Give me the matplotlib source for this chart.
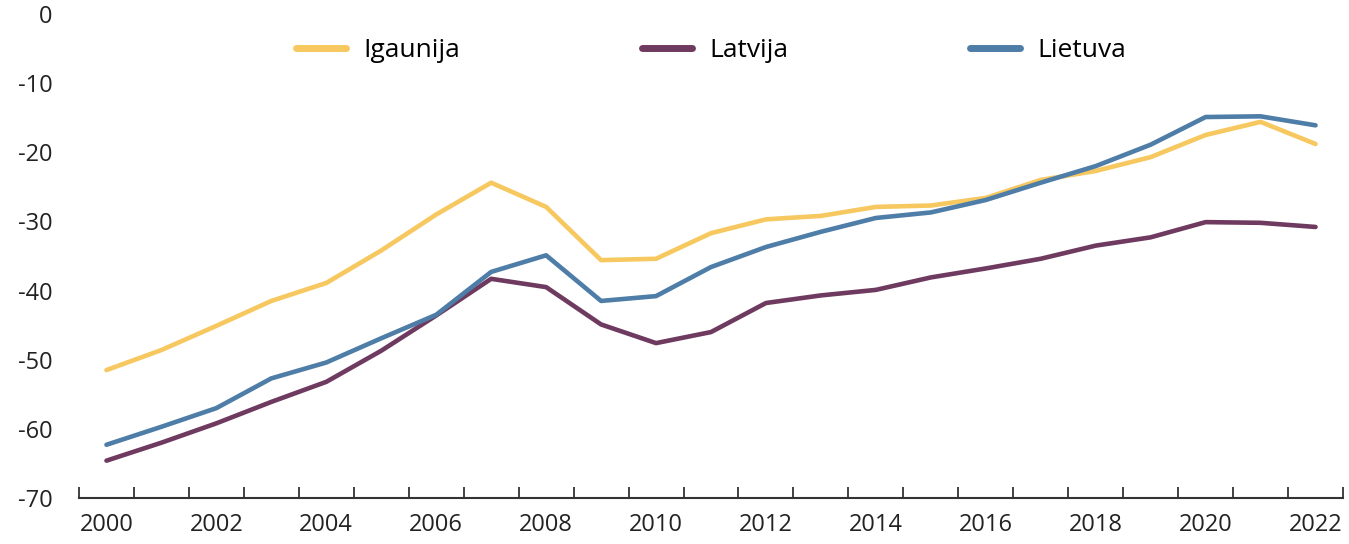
import matplotlib
matplotlib.use("Agg")
import matplotlib.pyplot as plt
import numpy as np

years = list(range(2000, 2023))
igaunija = [-51.5, -48.6, -45.1, -41.5, -38.9, -34.2, -29.0, -24.4, -27.9, -35.6, -35.4,
            -31.7, -29.7, -29.2, -27.9, -27.7, -26.6, -24.0, -22.7, -20.7, -17.5, -15.6, -18.8]
latvija = [-64.6, -62.0, -59.2, -56.1, -53.2, -48.7, -43.6, -38.3, -39.5, -44.9, -47.6,
           -46.0, -41.8, -40.7, -39.9, -38.1, -36.8, -35.4, -33.5, -32.3, -30.1, -30.2, -30.8]
lietuva = [-62.3, -59.7, -57.0, -52.7, -50.4, -46.9, -43.5, -37.3, -34.9, -41.5, -40.8,
           -36.6, -33.7, -31.5, -29.5, -28.7, -26.9, -24.4, -22.0, -18.9, -14.9, -14.8, -16.1]

series = [("Igaunija", igaunija, "#F6C85F"),
          ("Latvija", latvija, "#6F3A5F"),
          ("Lietuva", lietuva, "#4E7DA7")]

plt.rcParams['font.family'] = ['Open Sans', 'DejaVu Sans']
plt.rcParams['axes.unicode_minus'] = False

fig = plt.figure(figsize=(13.49, 5.44), dpi=100)
ax = fig.add_axes([79 / 1349, 1 - 498 / 544, 1264 / 1349, 484 / 544])

x = np.arange(len(years))
for name, vals, col in series:
    ax.plot(x, vals, color=col, lw=3.3, label=name, solid_capstyle='round')

ax.set_xlim(-0.5, len(years) - 0.5)
ax.set_ylim(-70, 0)
ax.set_yticks(range(-70, 1, 10))
ax.tick_params(axis='y', length=0, pad=19, labelsize=17, labelcolor='#222222')

# tick marks on category boundaries, labels on every other category
ax.set_xticks(np.arange(-0.5, len(years), 1.0))
ax.set_xticklabels([])
ax.set_xticks(x[::2], minor=True)
ax.set_xticklabels([str(y) for y in years[::2]], minor=True)
ax.tick_params(axis='x', which='major', direction='in', length=8, width=1.3, color='#333333')
ax.tick_params(axis='x', which='minor', length=0, pad=11, labelsize=17, labelcolor='#222222')

for s in ['top', 'right', 'left']:
    ax.spines[s].set_visible(False)
ax.spines['bottom'].set_color('#333333')
ax.spines['bottom'].set_linewidth(1.5)

leg = ax.legend(loc='center', bbox_to_anchor=(0.5, 0.925), ncol=3, frameon=False,
                handlelength=1.9, handletextpad=0.65, columnspacing=6.9,
                prop={'family': ['Open Sans', 'DejaVu Sans'], 'size': 19})
for line in leg.get_lines():
    line.set_linewidth(5)

fig.savefig("out.png", dpi=100)
